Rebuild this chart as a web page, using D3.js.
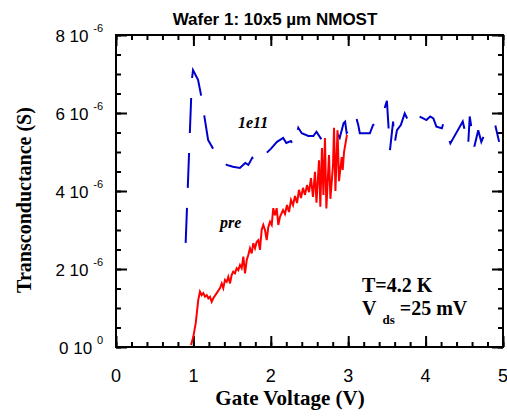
<!DOCTYPE html>
<html>
<head>
<meta charset="utf-8">
<script src="https://cdn.jsdelivr.net/npm/d3@7"></script>
<style>
  body { margin: 0; background: #fff; }
</style>
</head>
<body>
<div id="container"></div>
<script>
// gate voltage (V) and transconductance (units of 1e-6 S)
const preVg = [0.969, 0.999, 1.030, 1.063, 1.085, 1.107, 1.128, 1.150, 1.172, 1.193, 1.214, 1.236, 1.257, 1.301, 1.344, 1.366, 1.386, 1.408, 1.430, 1.451, 1.473, 1.495, 1.515, 1.537, 1.559, 1.580, 1.602, 1.624, 1.645, 1.667, 1.689, 1.709, 1.731, 1.753, 1.774, 1.796, 1.818, 1.839, 1.860, 1.882, 1.903, 1.925, 1.947, 1.968, 1.990, 2.012, 2.032, 2.054, 2.076, 2.097, 2.119, 2.158, 2.183, 2.209, 2.235, 2.261, 2.287, 2.313, 2.339, 2.364, 2.390, 2.416, 2.442, 2.468, 2.494, 2.519, 2.545, 2.571, 2.590, 2.623, 2.640, 2.661, 2.680, 2.700, 2.718, 2.752, 2.770, 2.804, 2.817, 2.835, 2.862, 2.881, 2.916, 2.929, 2.946, 2.984];
const preGm = [0.05, 0.26, 0.61, 1.21, 1.42, 1.33, 1.38, 1.29, 1.33, 1.25, 1.29, 1.16, 1.25, 1.38, 1.51, 1.63, 1.51, 1.72, 1.67, 1.80, 1.63, 1.85, 1.93, 1.89, 2.02, 1.97, 2.10, 2.02, 2.32, 1.89, 2.23, 2.36, 2.53, 2.40, 2.66, 2.53, 2.70, 2.74, 2.49, 3.00, 3.13, 3.00, 2.74, 3.08, 3.21, 3.13, 3.56, 3.38, 3.56, 3.13, 3.34, 3.51, 3.41, 3.64, 3.46, 3.77, 3.64, 3.87, 3.69, 4.03, 3.82, 4.08, 3.90, 4.15, 3.97, 4.33, 3.85, 4.49, 3.70, 4.79, 3.60, 5.10, 3.90, 5.36, 3.55, 4.92, 3.80, 4.67, 5.62, 4.00, 5.56, 4.25, 4.87, 4.54, 5.00, 5.44];

const impVg = [0.90, 0.98, 0.995, 1.06, 1.094, 1.19, 1.25, 1.43, 1.51, 1.60, 1.67, 1.71, 1.76, 1.81, 2.00, 2.08, 2.16, 2.20, 2.26, 2.30, 2.355, 2.40, 2.485, 2.55, 2.59, 2.645, 2.83, 2.89, 2.94, 2.96, 2.98, 3.07, 3.10, 3.13, 3.15, 3.28, 3.32, 3.39, 3.43, 3.45, 3.50, 3.54, 3.58, 3.60, 3.63, 3.68, 3.73, 3.78, 3.84, 3.97, 4.01, 4.06, 4.10, 4.14, 4.21, 4.23, 4.27, 4.32, 4.48, 4.53, 4.55, 4.57, 4.63, 4.68, 4.72, 4.81, 4.90, 4.95];
const impGm = [2.67, 6.85, 7.10, 6.85, 6.51, 5.31, 5.10, 4.67, 4.62, 4.59, 4.72, 4.67, 4.85, 4.72, 5.08, 5.26, 5.36, 5.23, 5.28, 5.16, 5.62, 5.48, 5.41, 5.41, 5.52, 5.35, 5.56, 5.36, 5.74, 5.78, 5.49, 5.74, 5.91, 5.69, 5.48, 5.48, 5.69, 5.78, 5.91, 5.99, 6.31, 5.05, 5.78, 5.22, 5.56, 5.69, 5.99, 5.78, 5.99, 5.86, 5.82, 5.91, 5.86, 5.65, 5.61, 5.74, 5.52, 5.22, 5.78, 5.35, 5.18, 5.91, 5.14, 5.56, 5.26, 5.69, 5.69, 5.26];

const xTicks = [0, 1, 2, 3, 4, 5];
const yTicks = [0, 2, 4, 6, 8];          // mantissa, x 1e-6
const yExp = ["0", "-6", "-6", "-6", "-6"];

const width = 507, height = 417;
const x = d3.scaleLinear().domain([0, 5]).range([116, 503]);
const y = d3.scaleLinear().domain([0, 8e-6]).range([347, 35]);

const svg = d3.select("#container").append("svg")
  .attr("width", width)
  .attr("height", height);

// ticks, inward on all four sides
const tickAxes = [
  [d3.axisBottom, x, 347, xTicks, d3.range(0, 5.001, 0.2), "x"],
  [d3.axisTop, x, 35, xTicks, d3.range(0, 5.001, 0.2), "x"],
  [d3.axisLeft, y, 116, yTicks.map(v => v * 1e-6), d3.range(0, 8.001, 0.5).map(v => v * 1e-6), "y"],
  [d3.axisRight, y, 503, yTicks.map(v => v * 1e-6), d3.range(0, 8.001, 0.5).map(v => v * 1e-6), "y"]
];
tickAxes.forEach(([ax, sc, pos, major, minor, dir]) => {
  const tr = dir === "x" ? `translate(0,${pos})` : `translate(${pos},0)`;
  [[minor, -5], [major, -11]].forEach(([vals, size]) => {
    const g = svg.append("g")
      .attr("transform", tr)
      .call(ax(sc).tickValues(vals).tickSize(size).tickFormat(""));
    g.select(".domain").remove();
    g.selectAll("line").attr("stroke", "#000").attr("stroke-width", 2);
  });
});

svg.append("rect")
  .attr("x", x(0)).attr("y", y(8e-6))
  .attr("width", x(5) - x(0)).attr("height", y(0) - y(8e-6))
  .attr("fill", "none").attr("stroke", "#000").attr("stroke-width", 2);

// tick labels
svg.append("g")
  .attr("font-family", "Liberation Sans, Arial, sans-serif")
  .attr("font-size", 18)
  .attr("text-anchor", "middle")
  .selectAll("text")
  .data(xTicks)
  .join("text")
  .attr("x", d => x(d))
  .attr("y", 382)
  .text(d => d);

const yl = svg.append("g")
  .attr("font-family", "Liberation Sans, Arial, sans-serif")
  .attr("font-size", 17)
  .attr("text-anchor", "end")
  .selectAll("text")
  .data(yTicks)
  .join("text")
  .attr("x", 103)
  .attr("y", d => y(d * 1e-6) + 7);
yl.append("tspan").text(d => d + " 10 ");
yl.append("tspan")
  .attr("font-size", 11)
  .attr("dy", -10)
  .text((d, i) => yExp[i]);

// curves
const line = d3.line().x(d => x(d[0])).y(d => y(d[1] * 1e-6));

svg.append("path")
  .datum(impVg.map((v, i) => [v, impGm[i]]))
  .attr("d", line)
  .attr("fill", "none")
  .attr("stroke", "#0000cc")
  .attr("stroke-width", 2)
  .attr("stroke-dasharray", "35,20");

svg.append("path")
  .datum(preVg.map((v, i) => [v, preGm[i]]))
  .attr("d", line)
  .attr("fill", "none")
  .attr("stroke", "#ff0000")
  .attr("stroke-width", 2);

// titles
svg.append("text")
  .attr("x", 275).attr("y", 25)
  .attr("text-anchor", "middle")
  .attr("font-family", "Liberation Sans, Arial, sans-serif")
  .attr("font-weight", "bold")
  .attr("font-size", 17)
  .text("Wafer 1: 10x5 µm NMOST");

const serif = "Liberation Serif, Times New Roman, serif";

svg.append("text")
  .attr("x", 290).attr("y", 405)
  .attr("text-anchor", "middle")
  .attr("font-family", serif)
  .attr("font-weight", "bold")
  .attr("font-size", 21)
  .text("Gate Voltage (V)");

svg.append("text")
  .attr("transform", "translate(31,200) rotate(-90)")
  .attr("text-anchor", "middle")
  .attr("font-family", serif)
  .attr("font-weight", "bold")
  .attr("font-size", 20)
  .text("Transconductance (S)");

// annotations
svg.append("text")
  .attr("x", 238).attr("y", 128)
  .attr("font-family", serif)
  .attr("font-weight", "bold")
  .attr("font-style", "italic")
  .attr("font-size", 16)
  .text("1e11");

svg.append("text")
  .attr("x", 220).attr("y", 228)
  .attr("font-family", serif)
  .attr("font-weight", "bold")
  .attr("font-style", "italic")
  .attr("font-size", 16)
  .text("pre");

svg.append("text")
  .attr("x", 362).attr("y", 292)
  .attr("font-family", serif)
  .attr("font-weight", "bold")
  .attr("font-size", 20)
  .text("T=4.2 K");

const vds = svg.append("text")
  .attr("x", 362).attr("y", 315)
  .attr("font-family", serif)
  .attr("font-weight", "bold")
  .attr("font-size", 20);
vds.append("tspan").text("V");
vds.append("tspan").attr("font-size", 13).attr("dx", 6).attr("dy", 9).text("ds");
vds.append("tspan").attr("dx", 5).attr("dy", -9).text("=25 mV");
</script>
</body>
</html>
